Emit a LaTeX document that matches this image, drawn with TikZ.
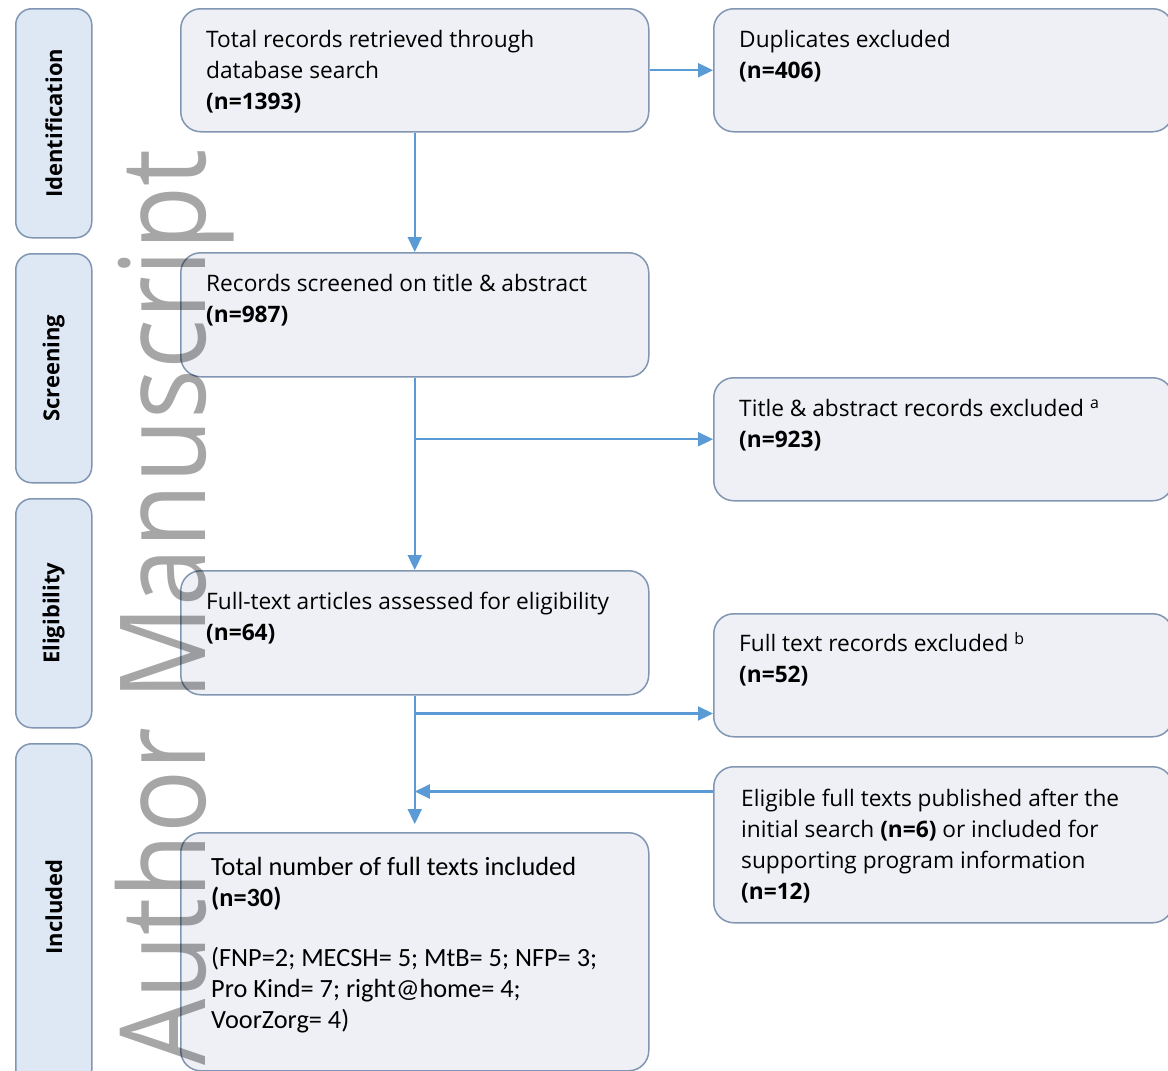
\documentclass[tikz,border=0pt]{standalone}
\usepackage{fontspec}
\setmainfont{Open Sans}
\newfontfamily\calfont{Carlito}
\usepackage{graphicx}
\usepackage{xcolor}
\usetikzlibrary{arrows.meta,positioning,calc}
\definecolor{boxfill}{RGB}{239,240,245}
\definecolor{boxline}{RGB}{128,150,178}
\definecolor{stagefill}{RGB}{222,232,245}
\definecolor{flowblue}{RGB}{91,155,213}

\begin{document}
\begin{tikzpicture}[x=1pt, y=-1pt,
  mainbox/.style={draw=boxline, fill=boxfill, line width=1.5pt, rounded corners=20pt,
                  anchor=north west, inner sep=0pt},
  stagebox/.style={draw=boxline, fill=stagefill, line width=1.5pt, rounded corners=16pt,
                   anchor=north west, inner sep=0pt, minimum width=76pt},
  stagelabel/.style={rotate=90, inner sep=0pt, font=\fontsize{22}{26}\selectfont\bfseries},
  txt/.style={anchor=north west, inner sep=0pt, align=left, font=\fontsize{22.7}{31}\selectfont},
  flow/.style={draw=flowblue, line width=2.2pt, -{Triangle[length=15pt,width=14pt]}}]
  \useasboundingbox[fill=white] (0,0) rectangle (1168,1071);
  % Stage boxes on the left
  \node[stagebox, minimum height=229pt] (ident) at (15,8) {};
  \node[stagebox, minimum height=229pt] (screen) at (15,253) {};
  \node[stagebox, minimum height=229pt] (elig) at (15,498) {};
  \node[stagebox, minimum height=342pt] (incl) at (15,743) {};
  \node[stagelabel] (identlbl) at (ident.center) {Identification};
  \node[stagelabel] (screenlbl) at (screen.center) {Screening};
  \node[stagelabel] (eliglbl) at (elig.center) {Eligibility};
  \node[stagelabel] (incllbl) at ($(incl.north)+(0,164)$) {Included};
  % Main flow boxes
  \node[mainbox, minimum width=468pt, minimum height=123pt] (total) at (180,8) {};
  \node[mainbox, minimum width=468pt, minimum height=124pt] (screened) at (180,252) {};
  \node[mainbox, minimum width=468pt, minimum height=124pt] (fulltext) at (180,570) {};
  \node[mainbox, minimum width=468pt, minimum height=238pt] (included) at (180,832) {};
  % Exclusion boxes on the right
  \node[mainbox, minimum width=459pt, minimum height=123pt] (dup) at (713,8) {};
  \node[mainbox, minimum width=459pt, minimum height=123pt] (taexcl) at (713,377) {};
  \node[mainbox, minimum width=459pt, minimum height=123pt] (ftexcl) at (713,613) {};
  \node[mainbox, minimum width=459pt, minimum height=156pt] (eligible) at (713,766) {};
  % Texts
  \node[txt] (totaltxt) at (206,30) {Total records retrieved through\\database search\\\textbf{(n=1393)}};
  \node[txt] (duptxt) at (739,30) {Duplicates excluded\\\textbf{(n=406)}};
  \node[txt] (screenedtxt) at (206,274) {Records screened on title \& abstract\\\textbf{(n=987)}};
  \node[txt] (taexcltxt) at (739,399) {Title \& abstract records excluded \textsuperscript{a}\\\textbf{(n=923)}};
  \node[txt] (fulltexttxt) at (206,592) {Full-text articles assessed for eligibility\\\textbf{(n=64)}};
  \node[txt] (ftexcltxt) at (739,632) {Full text records excluded \textsuperscript{b}\\\textbf{(n=52)}};
  \node[txt] (eligibletxt) at (741,789) {Eligible full texts published after the\\initial search \textbf{(n=6)} or included for\\supporting program information\\\textbf{(n=12)}};
  \node[txt, font=\calfont\fontsize{26.3}{31}\selectfont] (includedtxt) at (211,857)
    {Total number of full texts included\\\textbf{(n=30)}\\[29pt](FNP=2; MECSH= 5; MtB= 5; NFP= 3;\\Pro Kind= 7; right@home= 4;\\VoorZorg= 4)};
  % Connectors
  \draw[flow] (total) -- (screened);
  \draw[flow] (total) -- (dup);
  \draw[flow] (screened) -- (fulltext);
  \coordinate (split1) at (screened.south |- taexcl.west);
  \draw[flow] (split1) -- (taexcl);
  \draw[flow, shorten >=8pt] (fulltext) -- (included);
  \coordinate (split2) at ($(fulltext.south)+(0,18)$);
  \draw[flow] (split2) -- (split2 -| ftexcl.west);
  \coordinate (merge) at ($(fulltext.south)+(0,96)$);
  \draw[flow] (merge -| eligible.west) -- (merge);
  % Watermark
  \node[rotate=90, anchor=base west, inner sep=0pt, text=black, text opacity=0.35,
        font=\fontsize{119}{119}\selectfont] (wm) at (205,1066) {\scalebox{0.88}[1]{Author Manuscript}};
\end{tikzpicture}
\end{document}
